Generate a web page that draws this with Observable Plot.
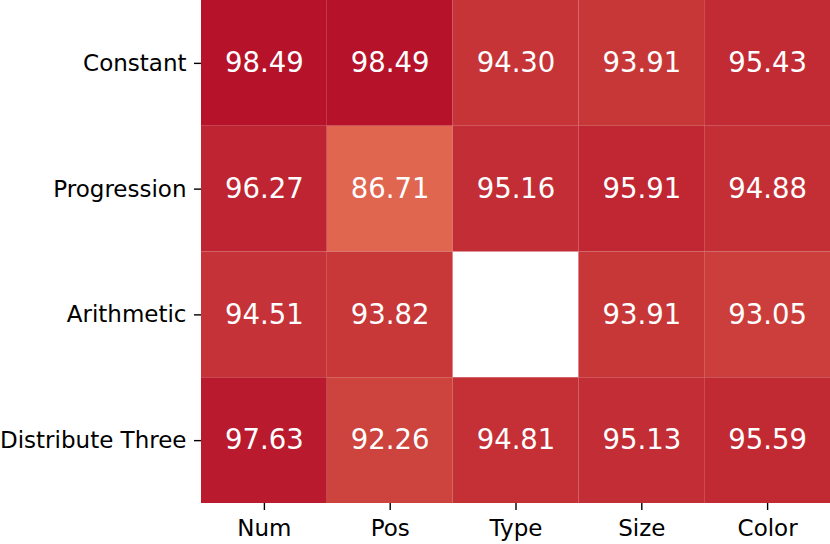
<!DOCTYPE html>
<html><head><meta charset="utf-8">
<script src="https://cdn.jsdelivr.net/npm/d3@7"></script>
<script src="https://cdn.jsdelivr.net/npm/@observablehq/plot@0.6"></script>
<style>body{margin:0;background:#fff;} svg{display:block;}</style>
</head><body><div id="chart"></div>
<script>
const rows = ["Constant", "Progression", "Arithmetic", "Distribute Three"];
const cols = ["Num", "Pos", "Type", "Size", "Color"];
const constantVals = [98.49, 98.49, 94.30, 93.91, 95.43];
const progressionVals = [96.27, 86.71, 95.16, 95.91, 94.88];
const arithmeticVals = [94.51, 93.82, null, 93.91, 93.05];
const distributeVals = [97.63, 92.26, 94.81, 95.13, 95.59];
const allVals = [constantVals, progressionVals, arithmeticVals, distributeVals];

const data = [];
rows.forEach((r, i) => cols.forEach((c, j) => {
  const v = allVals[i][j];
  if (v != null) data.push({row: r, col: c, value: v});
}));

const chart = Plot.plot({
  width: 830, height: 544,
  marginLeft: 201, marginRight: 0, marginTop: 0, marginBottom: 41,
  style: {fontFamily: "DejaVu Sans", fontSize: "23px", color: "#000", background: "#fff"},
  x: {domain: cols, padding: 0, round: false, label: null},
  y: {domain: rows, padding: 0, round: false, label: null},
  color: {type: "linear", domain: [86.71, 93.0, 98.49], range: ["#e0664f", "#cb3e3b", "#b6132b"], clamp: true},
  marks: [
    Plot.cell(data, {x: "col", y: "row", fill: "value", inset: 0}),
    Plot.text(data, {x: "col", y: "row", text: d => d.value.toFixed(2), fill: "white", fontSize: 27.5, fontFamily: "DejaVu Sans"}),
    Plot.axisX({tickSize: 7, tickPadding: 9, fontSize: 23, stroke: "#000", strokeWidth: 1.4, strokeOpacity: 1}),
    Plot.axisY({tickSize: 7, tickPadding: 8, fontSize: 23, stroke: "#000", strokeWidth: 1.4, strokeOpacity: 1})
  ]
});
document.getElementById("chart").appendChild(chart);
</script></body></html>
